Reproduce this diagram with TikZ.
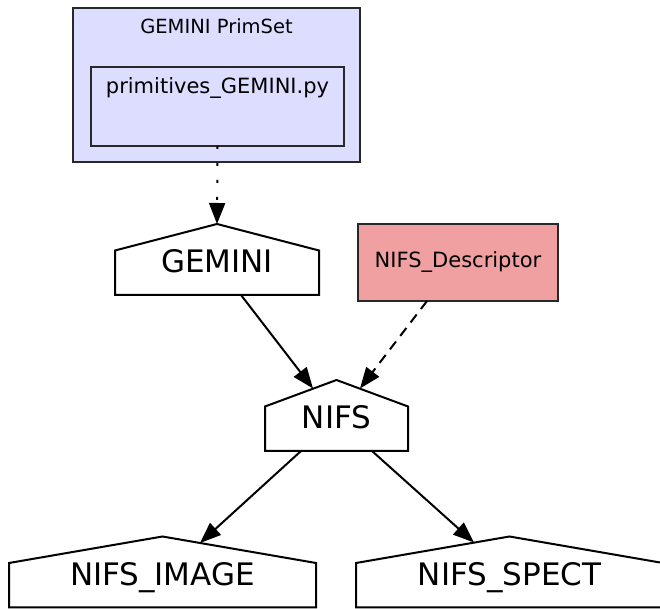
\documentclass[tikz,border=0pt]{standalone}
\usepackage{fontspec}
\setmainfont{DejaVu Sans}
\usepackage{tikz}
\usetikzlibrary{arrows.meta, calc}

\definecolor{clusterfill}{RGB}{221,221,255}
\definecolor{descrfill}{RGB}{240,160,160}
\definecolor{edgegray}{RGB}{40,40,40}

\begin{document}
\begin{tikzpicture}[
		x=1pt, y=1pt,
		>={Triangle[length=21pt, width=16pt]},
		cluster/.style = {draw=edgegray, line width=2pt, rectangle, fill=clusterfill, inner sep=0pt, outer sep=0pt},
		descr/.style = {draw=edgegray, line width=2pt, rectangle, fill=descrfill, inner sep=0pt, outer sep=0pt, font=\fontsize{21}{25}\selectfont},
		pkg/.style = {rectangle, inner sep=0pt, outer sep=0pt, minimum height=71pt, text height=28pt, text depth=1.4pt, font=\fontsize{31}{36}\selectfont},
		small/.style = {font=\fontsize{21}{25}\selectfont},
		edge/.style = {->, line width=2pt}
		]
		
		\useasboundingbox (0,0) rectangle (660,609);
		
		% primitive set cluster
		\node [cluster, minimum width=287pt, minimum height=154pt] (primset) at (216.5,524) {};
		\node [small, font=\fontsize{19.5}{23}\selectfont] (primset-title) at ($(primset.north)+(0,-18)$) {GEMINI PrimSet};
		\node [cluster, minimum width=253pt, minimum height=79pt] (pyfile) at (217.5,502.5) {};
		\node [small] (pyfile-title) at ($(pyfile.north)+(0,-21)$) {primitives\_GEMINI.py};
		
		% packages
		\node [pkg, minimum width=204pt] (gemini) at (217,349.5) {GEMINI};
		\node [descr, minimum width=200pt, minimum height=77pt] (descr) at (458,346.5) {NIFS\_Descriptor};
		\node [pkg, minimum width=143pt] (nifs) at (336.5,193.5) {NIFS};
		\node [pkg, minimum width=307pt] (image) at (162.5,37) {NIFS\_IMAGE};
		\node [pkg, minimum width=307pt] (spect) at (509.5,37) {NIFS\_SPECT};
		
		\foreach \n in {gemini, nifs, image, spect}
			\draw [line width=2pt, line join=miter] (\n.south west) -- ($(\n.north west)+(0,-26.5)$) -- (\n.north) -- ($(\n.north east)+(0,-26.5)$) -- (\n.south east) -- cycle;
		
		% dependencies
		\draw [edge, dash pattern=on 3pt off 14pt] (pyfile.south) -- (gemini.north);
		\draw [edge] ($(gemini.south)+(24,0)$) -- ($(nifs.north)+(-23.5,-8.5)$);
		\draw [edge, dash pattern=on 10pt off 7pt] ($(descr.south)+(-31,0)$) -- ($(nifs.north)+(23.5,-8.5)$);
		\draw [edge] ($(nifs.south)+(-35.5,0)$) -- ($(image.north)+(37.5,-6.5)$);
		\draw [edge] ($(nifs.south)+(35.5,0)$) -- ($(spect.north)+(-35.5,-6)$);
		
	\end{tikzpicture}
\end{document}
